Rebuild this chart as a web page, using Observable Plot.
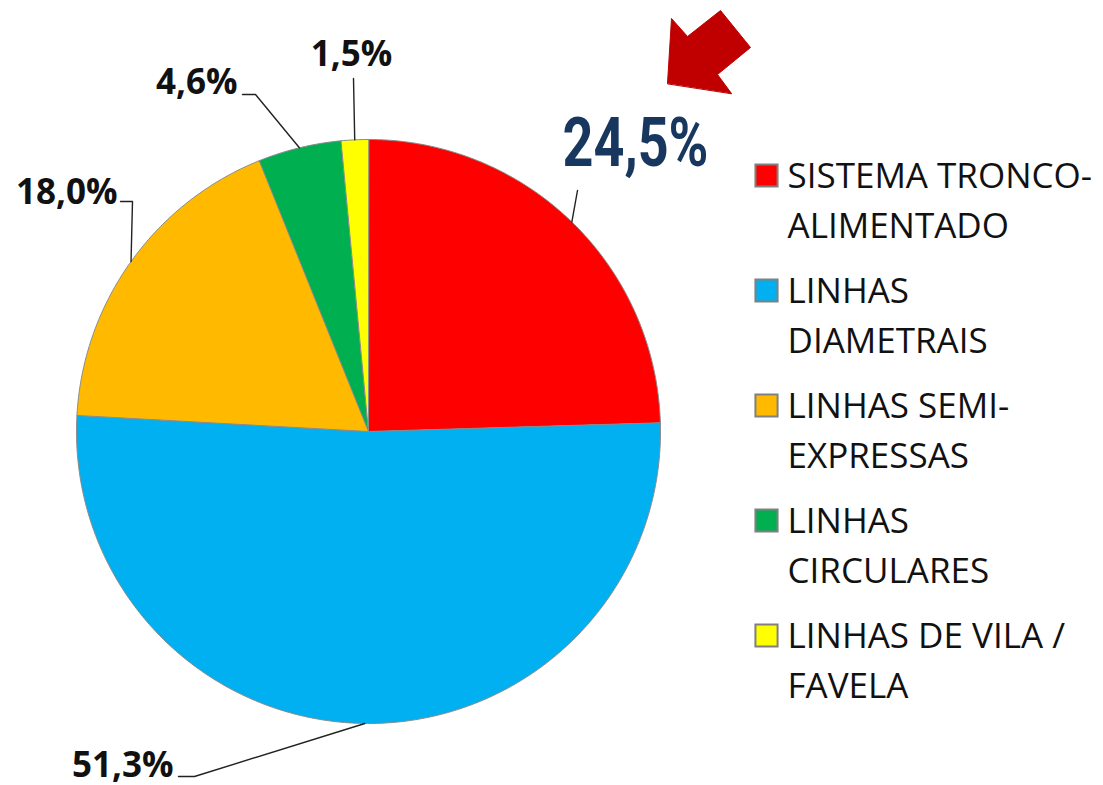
<!DOCTYPE html>
<html>
<head>
<meta charset="utf-8">
<script src="https://cdn.jsdelivr.net/npm/d3@7"></script>
<script src="https://cdn.jsdelivr.net/npm/@observablehq/plot@0.6"></script>
<style>
  html, body { margin: 0; padding: 0; background: #fff; }
  #chart svg { display: block; }
</style>
</head>
<body>
<div id="chart"></div>
<script>
// ---- data ----
const categories = ["SISTEMA TRONCO-ALIMENTADO", "LINHAS DIAMETRAIS", "LINHAS SEMI-EXPRESSAS", "LINHAS CIRCULARES", "LINHAS DE VILA / FAVELA"];
const values = [24.5, 51.3, 18.0, 4.6, 1.5];
const valueLabels = ["24,5%", "51,3%", "18,0%", "4,6%", "1,5%"];
const legendLines = [["SISTEMA TRONCO-", "ALIMENTADO"], ["LINHAS", "DIAMETRAIS"], ["LINHAS SEMI-", "EXPRESSAS"], ["LINHAS", "CIRCULARES"], ["LINHAS DE VILA /", "FAVELA"]];
const colors = ["#FF0000", "#00B0F0", "#FFBA00", "#00B050", "#FFFF00"];

// ---- layout ----
const W = 1103, H = 785;
const cx = 368, cy = 431, R = 292;
// label placement: text anchor point + leader elbow
const labelLayout = [
  {tx: 635, ty: 165, anchor: "middle", elbow: null, end: [577, 190]},
  {tx: 173, ty: 776, anchor: "end", elbow: [194, 776], end: [178, 776]},
  {tx: 117, ty: 203, anchor: "end", elbow: [132, 201], end: [120, 201]},
  {tx: 237, ty: 93, anchor: "end", elbow: [255, 94], end: [242, 94]},
  {tx: 351, ty: 65, anchor: "middle", elbow: null, end: [353, 78]}
];
const legendX = 787, legendSquareX = 766, legendTop = 187, legendRowGap = 115, legendLineGap = 50;

const pie = d3.pie().sort(null).value(d => d)(values);
const pt = (a, r) => ({x: cx + r * Math.sin(a), y: cy - r * Math.cos(a)});

const sliceMarks = pie.map((s, i) => {
  const pts = [{x: cx, y: cy}];
  const n = Math.max(4, Math.ceil((s.endAngle - s.startAngle) / (Math.PI / 360)));
  for (let k = 0; k <= n; k++) pts.push(pt(s.startAngle + (s.endAngle - s.startAngle) * k / n, R));
  return Plot.line(pts, {x: "x", y: "y", fill: colors[i], stroke: "#8a8a8a", strokeWidth: 1, curve: "linear-closed"});
});

const leaderMarks = pie.map((s, i) => {
  const L = labelLayout[i];
  const mid = (s.startAngle + s.endAngle) / 2;
  const e = pt(mid, R);
  const pts = [e];
  if (L.elbow) pts.push({x: L.elbow[0], y: L.elbow[1]});
  pts.push({x: L.end[0], y: L.end[1]});
  return Plot.line(pts, {x: "x", y: "y", stroke: "#222", strokeWidth: 1.4});
});

const labelData = valueLabels.map((t, i) => ({t, x: labelLayout[i].tx, y: labelLayout[i].ty, anchor: labelLayout[i].anchor, i}));

const legendRows = categories.map((c, i) => ({c, i, y: legendTop + i * legendRowGap}));
const legendTextData = legendRows.flatMap(r => legendLines[r.i].map((line, j) => ({line, y: r.y + j * legendLineGap})));

// decorative block arrow (pointing toward the 24,5% label)
const arrowShape = [[667, 83], [671, 18], [687, 36], [720, 10], [750, 47], [717, 74], [731, 93]].map(([x, y]) => ({x, y}));

const chart = Plot.plot({
  width: W, height: H, margin: 0,
  x: {domain: [0, W], range: [0, W], axis: null},
  y: {domain: [0, H], range: [0, H], axis: null},
  style: {fontFamily: "'Open Sans', sans-serif", background: "#fff"},
  marks: [
    ...sliceMarks,
    ...leaderMarks,
    Plot.text(labelData.filter(d => d.i > 0 && d.anchor === "end"), {x: "x", y: "y", text: "t", textAnchor: "end", lineAnchor: "bottom", fontSize: 35, fontWeight: "bold", fill: "#111"}),
    Plot.text(labelData.filter(d => d.i > 0 && d.anchor === "middle"), {x: "x", y: "y", text: "t", textAnchor: "middle", lineAnchor: "bottom", fontSize: 35, fontWeight: "bold", fill: "#111"}),
    Plot.text(labelData.filter(d => d.i === 0), {x: "x", y: "y", text: "t", textAnchor: "middle", lineAnchor: "bottom", fontSize: 68, fontWeight: "bold", fill: "#17375E", fontFamily: "'Liberation Sans Narrow', Roboto, sans-serif"}),
    Plot.line(arrowShape, {x: "x", y: "y", fill: "#C00000", stroke: "#C00000", strokeWidth: 1, curve: "linear-closed"}),
    Plot.dot(legendRows, {x: legendSquareX, y: d => d.y - 12, symbol: "square", r: 12.5, fill: d => colors[d.i], stroke: "#808080", strokeWidth: 2}),
    Plot.text(legendTextData, {x: legendX, y: "y", text: "line", textAnchor: "start", lineAnchor: "bottom", fontSize: 35, fill: "#111"})
  ]
});
document.getElementById("chart").appendChild(chart);

// compress the big label horizontally like the original narrow font
d3.select(chart).selectAll("text").filter(function () { return this.textContent === valueLabels[0]; })
  .attr("textLength", 146).attr("lengthAdjust", "spacingAndGlyphs");
</script>
</body>
</html>
